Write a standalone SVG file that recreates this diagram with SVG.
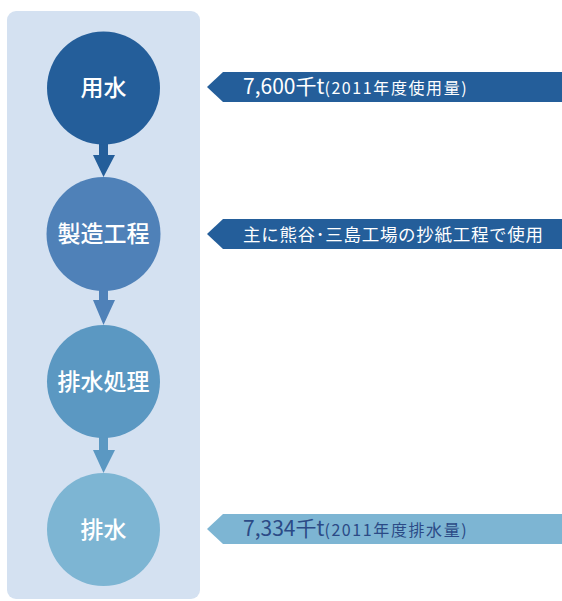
<svg xmlns="http://www.w3.org/2000/svg" width="562" height="601" viewBox="0 0 562 601">
<style>
.node-label{font-family:"Noto Sans CJK JP","Noto Sans",sans-serif;font-size:23px;font-weight:500;fill:#ffffff;text-anchor:middle}
.banner-text{font-family:"Noto Sans CJK JP","Noto Sans",sans-serif;fill:#ffffff}
.big{font-size:21px}
.small{font-size:16px}
</style>
<rect x="7" y="11" width="193" height="588" rx="9" fill="#d4e1f1"/>
<g id="connectors">
  <path d="M99,140 H108 V155 H115 L103.5,177 L93,155 H99 Z" fill="#245e9a"/>
  <path d="M99,288 H108 V300 H115 L103.5,325 L93,300 H99 Z" fill="#4f81b8"/>
  <path d="M99,435 H108 V450 H115 L103.5,473 L93,450 H99 Z" fill="#5b98c2"/>
</g>
<g id="node-yousui">
  <circle cx="103.5" cy="88" r="56.5" fill="#245e9a"/>
  <text class="node-label" x="103.5" y="96">用水</text>
</g>
<g id="node-seizou">
  <circle cx="103.5" cy="234" r="57" fill="#4f81b8"/>
  <text class="node-label" x="103.5" y="242">製造工程</text>
</g>
<g id="node-haisui-shori">
  <circle cx="103.5" cy="381.5" r="56.5" fill="#5b98c2"/>
  <text class="node-label" x="103.5" y="389.5">排水処理</text>
</g>
<g id="node-haisui">
  <circle cx="103.5" cy="529.5" r="56.5" fill="#7db5d3"/>
  <text class="node-label" x="103.5" y="537.5">排水</text>
</g>
<g id="banner-usage">
  <path d="M223,72 H562 V102 H223 L207,87 Z" fill="#245e9a"/>
  <text class="banner-text" x="243" y="94"><tspan class="big">7,600千t</tspan><tspan class="small" letter-spacing="1.6">(2011年度使用量)</tspan></text>
</g>
<g id="banner-process">
  <path d="M223,219 H562 V249 H223 L207,234 Z" fill="#245e9a"/>
  <text class="banner-text" x="243" y="241" font-size="17.5" textLength="300" lengthAdjust="spacing">主に熊谷･三島工場の抄紙工程で使用</text>
</g>
<g id="banner-discharge">
  <path d="M223,514 H562 V544 H223 L207,529 Z" fill="#7db5d3"/>
  <text class="banner-text" x="243" y="536" style="fill:#2b4a86"><tspan class="big">7,334千t</tspan><tspan class="small" letter-spacing="1.6">(2011年度排水量)</tspan></text>
</g>
</svg>
